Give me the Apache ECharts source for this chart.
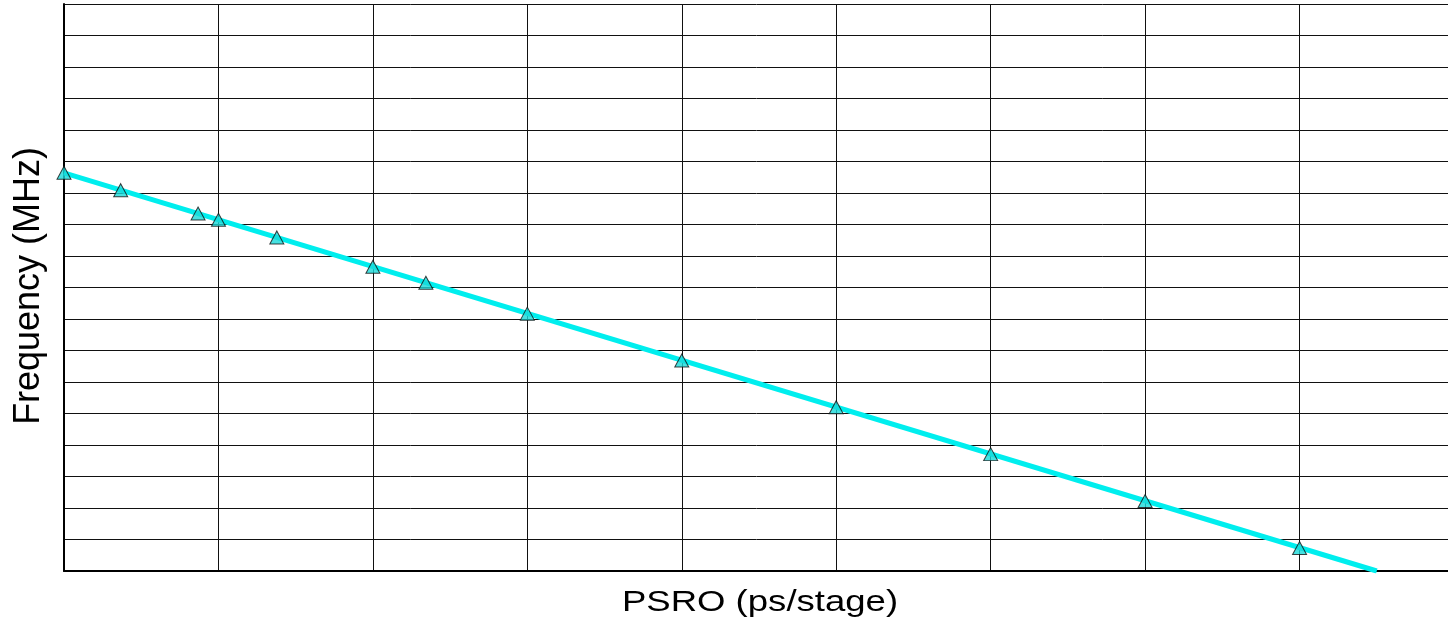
<!DOCTYPE html>
<html>
<head>
<meta charset="utf-8">
<script src="https://cdn.jsdelivr.net/npm/echarts@6/dist/echarts.min.js"></script>
<style>
  html, body { margin: 0; padding: 0; background: #fff; }
  #chart { width: 1448px; height: 630px; }
</style>
</head>
<body>
<div id="chart"></div>
<script>
// measured points (x in grid units, y in grid units; the chart has no tick labels)
var psro = [0, 0.367, 0.868, 1.0, 1.378, 2.0, 2.343, 3.0, 4.0, 5.0, 6.0, 7.0, 8.0];
var freq = [12.64, 12.09, 11.35, 11.15, 10.59, 9.66, 9.15, 8.17, 6.68, 5.20, 3.71, 2.22, 0.73];
// fitted line, drawn edge to edge
var fitX = [0, 8.5];
var fitY = [12.64, 0];

var xTitle = 'PSRO (ps/stage)';
var yTitle = 'Frequency (MHz)';

var chart = echarts.init(document.getElementById('chart'));

var points = psro.map(function (v, i) { return [v, freq[i]]; });
var fit = fitX.map(function (v, i) { return [v, fitY[i]]; });

var titleFont = { fontSize: 29, fontFamily: 'Liberation Sans, Arial, sans-serif', fill: '#000', align: 'center', verticalAlign: 'middle' };

var option = {
  animation: false,
  backgroundColor: '#fff',
  grid: { left: 64, top: 4, right: -6, bottom: 59, outerBoundsMode: 'none', containLabel: false },
  xAxis: {
    type: 'value',
    min: 0, max: 9, interval: 1,
    axisLine: { show: true, lineStyle: { color: '#000', width: 2 } },
    axisTick: { show: false },
    axisLabel: { show: false },
    splitLine: { show: true, lineStyle: { color: '#111', width: 1 } }
  },
  yAxis: {
    type: 'value',
    min: 0, max: 18, interval: 1,
    axisLine: { show: true, lineStyle: { color: '#000', width: 2 } },
    axisTick: { show: false },
    axisLabel: { show: false },
    splitLine: { show: true, lineStyle: { color: '#111', width: 1 } }
  },
  graphic: [
    {
      type: 'text',
      x: 760, y: 603,
      scaleX: 1.26,
      style: Object.assign({ text: xTitle }, titleFont)
    },
    {
      type: 'text',
      x: 28.5, y: 286,
      rotation: Math.PI / 2,
      scaleX: 1.24, scaleY: 1.28,
      style: Object.assign({ text: yTitle }, titleFont)
    }
  ],
  series: [
    {
      type: 'line',
      data: fit,
      showSymbol: false,
      lineStyle: { color: '#00eeee', width: 5 },
      z: 2
    },
    {
      type: 'scatter',
      data: points,
      symbol: 'triangle',
      symbolSize: [14, 13],
      itemStyle: { color: '#19d9d9', borderColor: '#111', borderWidth: 1 },
      z: 3
    }
  ]
};

chart.setOption(option);
</script>
</body>
</html>
